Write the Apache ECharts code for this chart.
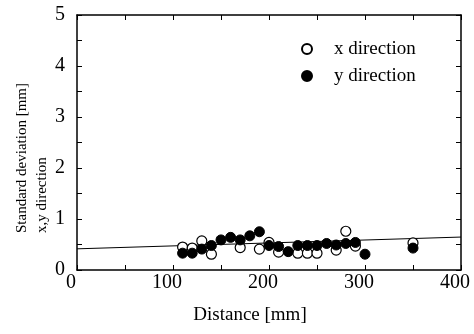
<!DOCTYPE html>
<html>
<head>
<meta charset="utf-8">
<title>Standard deviation vs distance</title>
<script src="https://cdn.jsdelivr.net/npm/echarts@6/dist/echarts.min.js"></script>
<style>
  html, body { margin: 0; padding: 0; background: #fff; }
  #chart { width: 474px; height: 334px; }
</style>
</head>
<body>
<div id="chart"></div>
<script>
// distance [mm] / std dev [mm]
const xDirDistance = [110, 120, 130, 140, 170, 190, 200, 210, 230, 240, 250, 270, 280, 290, 350];
const xDirStd = [0.45, 0.43, 0.57, 0.31, 0.44, 0.41, 0.54, 0.35, 0.33, 0.33, 0.33, 0.39, 0.76, 0.47, 0.53];

const yDirDistance = [110, 120, 130, 140, 150, 160, 170, 180, 190, 200, 210, 220, 230, 240, 250, 260, 270, 280, 290, 300, 350];
const yDirStd = [0.33, 0.33, 0.41, 0.48, 0.59, 0.64, 0.59, 0.67, 0.75, 0.48, 0.46, 0.36, 0.48, 0.48, 0.48, 0.52, 0.49, 0.52, 0.54, 0.31, 0.43];

// fitted line end points
const fitDistance = [0, 400];
const fitStd = [0.415, 0.646];

const xTicks = [0, 100, 200, 300, 400];
const yTicks = [0, 1, 2, 3, 4, 5];

const FONT = '"Liberation Serif", "Times New Roman", serif';
const zip = (a, b) => a.map((v, i) => [v, b[i]]);

// tick every half step, label only the listed values
// onZero off, otherwise the mirror axes get pulled onto the 0 line
const makeAxis = (extra) => Object.assign({
  type: 'value',
  axisLine: { show: true, onZero: false, lineStyle: { color: '#000', width: 1.5 } },
  axisTick: { show: true, inside: true, length: 5, lineStyle: { color: '#000', width: 1 } },
  splitLine: { show: false },
}, extra);

const chart = echarts.init(document.getElementById('chart'), null, { renderer: 'canvas' });

chart.setOption({
  animation: false,
  backgroundColor: '#fff',
  grid: { left: 77, right: 13, top: 15, bottom: 64 },
  legend: {
    orient: 'vertical',
    left: 296,
    top: 34,
    itemWidth: 10,
    itemHeight: 10,
    itemGap: 7,
    textStyle: { fontFamily: FONT, fontSize: 19, color: '#000', padding: [0, 0, 0, 17], lineHeight: 20 },
    data: ['x direction', 'y direction'],
  },
  xAxis: [
    makeAxis({
      min: xTicks[0], max: xTicks[xTicks.length - 1], interval: 50,
      axisLabel: {
        color: '#000', fontSize: 20, fontFamily: FONT, margin: 3, padding: [0, 12, 0, 0],
        formatter: (v) => (xTicks.includes(v) ? String(v) : ''),
      },
    }),
    makeAxis({ position: 'top', min: 0, max: 400, interval: 50, axisLabel: { show: false } }),
  ],
  yAxis: [
    makeAxis({
      min: yTicks[0], max: yTicks[yTicks.length - 1], interval: 0.5,
      axisLabel: {
        color: '#000', fontSize: 20, fontFamily: FONT, margin: 12,
        formatter: (v) => (yTicks.includes(v) ? String(v) : ''),
      },
    }),
    makeAxis({ position: 'right', min: 0, max: 5, interval: 0.5, axisLabel: { show: false } }),
  ],
  graphic: [
    {
      type: 'text', x: 12, y: 233, rotation: Math.PI / 2,
      style: {
        text: 'Standard deviation [mm]\nx,y direction',
        font: '15px ' + FONT, fill: '#000',
        align: 'left', verticalAlign: 'top', lineHeight: 20,
      },
    },
    {
      type: 'text', x: 250, y: 315,
      style: {
        text: 'Distance [mm]', font: '19px ' + FONT, fill: '#000',
        align: 'center', verticalAlign: 'middle',
      },
    },
  ],
  series: [
    {
      name: 'fit', type: 'line', data: zip(fitDistance, fitStd),
      symbol: 'none', lineStyle: { color: '#000', width: 1 }, z: 1, silent: true,
    },
    {
      name: 'x direction', type: 'scatter', data: zip(xDirDistance, xDirStd),
      symbol: 'circle', symbolSize: 10, z: 2,
      itemStyle: { color: '#fff', borderColor: '#000', borderWidth: 1.2, opacity: 1 },
    },
    {
      name: 'y direction', type: 'scatter', data: zip(yDirDistance, yDirStd),
      symbol: 'circle', symbolSize: 10, z: 3,
      itemStyle: { color: '#000', borderColor: '#000', borderWidth: 1, opacity: 1 },
    },
  ],
});
</script>
</body>
</html>
